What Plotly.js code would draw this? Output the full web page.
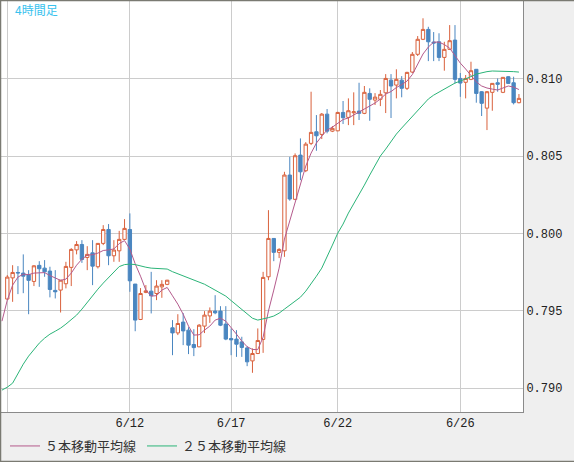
<!DOCTYPE html>
<html>
<head>
<meta charset="utf-8">
<script src="https://cdn.plot.ly/plotly-3.0.1.min.js"></script>
<style>
html,body{margin:0;padding:0;background:#efefef;}
#chart{width:574px;height:462px;}
</style>
</head>
<body>
<div id="chart"></div>
<script>
// 4-hour bars, index 0 = first bar (6/8)
const open = [0.79576,0.79713,0.79748,0.79744,0.79735,0.79690,0.79794,0.79776,0.79757,0.79632,
0.79634,0.79675,0.79781,0.79894,0.79929,0.79845,0.79875,0.79785,0.79936,0.80026,
0.79856,0.79888,0.79962,0.80026,0.79673,0.79444,0.79619,0.79627,0.79612,0.79655,
0.79671,0.79390,0.79357,0.79427,0.79375,0.79282,0.79267,0.79401,0.79467,0.79498,
0.79498,0.79414,0.79321,0.79317,0.79299,0.79260,0.79176,0.79224,0.79315,0.79720,
0.79968,0.79878,0.79888,0.80378,0.80221,0.80507,0.80406,0.80583,0.80658,0.80641,
0.80772,0.80662,0.80664,0.80783,0.80751,0.80781,0.80792,0.80777,0.80906,0.80863,
0.80868,0.80910,0.80992,0.80960,0.80992,0.80939,0.81044,0.81159,0.81256,0.81320,
0.81238,0.81240,0.81139,0.81191,0.81251,0.81003,0.80978,0.80997,0.81062,0.80917,
0.80811,0.80913,0.80975,0.80913,0.81014,0.80975,0.80846];
const high = [0.79731,0.79795,0.79789,0.79865,0.79763,0.79795,0.79821,0.79828,0.79785,0.79763,
0.79698,0.79817,0.79905,0.79951,0.79957,0.79918,0.79957,0.79938,0.80054,0.80061,
0.79957,0.80017,0.80093,0.80130,0.79673,0.79647,0.79666,0.79752,0.79698,0.79698,
0.79700,0.79440,0.79478,0.79485,0.79394,0.79381,0.79414,0.79498,0.79522,0.79601,
0.79530,0.79530,0.79386,0.79375,0.79332,0.79271,0.79257,0.79386,0.79752,0.80151,
0.79970,0.79905,0.80399,0.80496,0.80518,0.80615,0.80591,0.80917,0.80766,0.80779,
0.80805,0.80695,0.80787,0.80857,0.80874,0.80913,0.80975,0.80954,0.80939,0.80908,
0.80928,0.81031,0.81031,0.81062,0.81018,0.81046,0.81174,0.81277,0.81392,0.81337,
0.81303,0.81295,0.81240,0.81348,0.81348,0.81038,0.81025,0.81111,0.81064,0.80921,
0.80921,0.80973,0.81003,0.81012,0.81018,0.81014,0.80902];
const low = [0.79569,0.79558,0.79608,0.79614,0.79478,0.79660,0.79655,0.79720,0.79587,0.79580,
0.79489,0.79645,0.79660,0.79865,0.79810,0.79763,0.79666,0.79774,0.79925,0.79795,
0.79817,0.79817,0.79957,0.79623,0.79368,0.79440,0.79614,0.79483,0.79569,0.79584,
0.79666,0.79213,0.79343,0.79278,0.79220,0.79207,0.79265,0.79356,0.79422,0.79478,
0.79401,0.79310,0.79213,0.79202,0.79202,0.79142,0.79099,0.79220,0.79228,0.79698,
0.79821,0.79841,0.79849,0.80212,0.80216,0.80345,0.80397,0.80572,0.80535,0.80611,
0.80648,0.80656,0.80662,0.80708,0.80701,0.80701,0.80734,0.80772,0.80729,0.80831,
0.80824,0.80779,0.80747,0.80874,0.80881,0.80928,0.81038,0.81148,0.81251,0.81115,
0.81115,0.81115,0.81053,0.81187,0.80971,0.80884,0.80874,0.80992,0.80846,0.80760,
0.80669,0.80794,0.80917,0.80908,0.80967,0.80835,0.80842];
const close = [0.79718,0.79748,0.79745,0.79724,0.79697,0.79791,0.79772,0.79752,0.79638,0.79623,
0.79698,0.79787,0.79897,0.79929,0.79832,0.79865,0.79789,0.79936,0.80026,0.79856,
0.79893,0.79962,0.80033,0.79694,0.79440,0.79612,0.79629,0.79597,0.79660,0.79671,
0.79698,0.79357,0.79418,0.79370,0.79278,0.79262,0.79407,0.79472,0.79498,0.79487,
0.79407,0.79317,0.79312,0.79284,0.79263,0.79170,0.79224,0.79308,0.79716,0.79968,
0.79878,0.79897,0.80378,0.80223,0.80503,0.80399,0.80578,0.80654,0.80632,0.80772,
0.80662,0.80680,0.80783,0.80749,0.80794,0.80787,0.80777,0.80913,0.80868,0.80882,
0.80900,0.81003,0.80954,0.80997,0.80939,0.81042,0.81159,0.81256,0.81320,0.81240,
0.81232,0.81139,0.81191,0.81247,0.80997,0.80973,0.81003,0.81053,0.80906,0.80842,
0.80917,0.80971,0.80965,0.81010,0.80971,0.80846,0.80874];

// moving averages, first value belongs to bar index -1
const ma5 = [0.79433,0.79569,0.79666,0.79718,0.79737,0.79734,0.79744,0.79747,0.79747,0.79728,
0.79711,0.79697,0.79705,0.79744,0.79795,0.79834,0.79860,0.79863,0.79873,0.79890,
0.79894,0.79900,0.79935,0.79954,0.79899,0.79804,0.79724,0.79634,0.79595,0.79598,
0.79634,0.79651,0.79597,0.79543,0.79478,0.79401,0.79343,0.79345,0.79375,0.79401,
0.79440,0.79452,0.79433,0.79394,0.79349,0.79304,0.79268,0.79250,0.79249,0.79330,
0.79499,0.79634,0.79776,0.79964,0.80080,0.80197,0.80307,0.80436,0.80520,0.80585,
0.80630,0.80669,0.80688,0.80714,0.80737,0.80747,0.80766,0.80782,0.80801,0.80824,
0.80844,0.80870,0.80902,0.80918,0.80944,0.80963,0.80986,0.81028,0.81096,0.81161,
0.81206,0.81238,0.81238,0.81222,0.81199,0.81151,0.81102,0.81064,0.81025,0.80980,
0.80954,0.80941,0.80934,0.80928,0.80941,0.80954,0.80947,0.80931];
const ma25 = [0.78987,0.79006,0.79032,0.79097,0.79155,0.79207,0.79252,0.79291,0.79323,0.79349,
0.79368,0.79388,0.79414,0.79446,0.79472,0.79511,0.79556,0.79601,0.79640,0.79679,
0.79715,0.79750,0.79786,0.79799,0.79802,0.79799,0.79789,0.79782,0.79776,0.79774,
0.79774,0.79770,0.79753,0.79740,0.79724,0.79711,0.79698,0.79686,0.79672,0.79653,
0.79634,0.79614,0.79595,0.79566,0.79537,0.79508,0.79478,0.79452,0.79440,0.79446,
0.79456,0.79466,0.79485,0.79511,0.79537,0.79566,0.79588,0.79627,0.79672,0.79724,
0.79776,0.79847,0.79925,0.80002,0.80061,0.80132,0.80190,0.80255,0.80313,0.80378,
0.80443,0.80501,0.80546,0.80598,0.80643,0.80682,0.80721,0.80760,0.80798,0.80831,
0.80870,0.80895,0.80915,0.80934,0.80954,0.80973,0.80986,0.80999,0.81015,0.81031,
0.81041,0.81047,0.81051,0.81051,0.81051,0.81051,0.81047,0.81044];

const dayTickBars = [0, 23, 42, 62, 85];
const dayTickLabels = ['', '6/12', '6/17', '6/22', '6/26'];
const priceTicks = [0.790, 0.795, 0.800, 0.805, 0.810];
const seriesNames = ['５本移動平均線', '２５本移動平均線'];
const chartTitle = '4時間足';

const barX = open.map((_, i) => i);
const maX = ma5.map((_, i) => i - 1);

const W = 574, H = 462, ML = 1, MR = 51, MT = 1, MB = 50;
const PW = W - ML - MR, PH = H - MT - MB;
const px = v => (v - ML) / PW;
const py = v => (H - MB - v) / PH;

const traces = [
  {
    type: 'candlestick', x: barX, open: open, high: high, low: low, close: close,
    showlegend: false, hoverinfo: 'skip', whiskerwidth: 0,
    increasing: {line: {color: '#d9613c', width: 1}, fillcolor: '#ffffff'},
    decreasing: {line: {color: '#4a86c0', width: 1}, fillcolor: '#4a86c0'}
  },
  {type: 'scatter', mode: 'lines', x: maX, y: ma5, name: seriesNames[0], legend: 'legend',
   line: {color: '#b45a8c', width: 1}, hoverinfo: 'skip'},
  {type: 'scatter', mode: 'lines', x: maX, y: ma25, name: seriesNames[1], legend: 'legend2',
   line: {color: '#2bb478', width: 1}, hoverinfo: 'skip'}
];

const monoFont = {family: 'Liberation Mono, DejaVu Sans Mono, monospace', size: 12, color: '#222222'};
const legendFont = {family: 'Noto Sans CJK JP', size: 13, color: '#333333'};

const layout = {
  width: W, height: H,
  margin: {l: ML, r: MR, t: MT, b: MB, pad: 0},
  paper_bgcolor: '#efefef', plot_bgcolor: '#ffffff',
  boxgap: 0.22, boxgroupgap: 0.2,
  title: {text: chartTitle, xref: 'container', yref: 'container', x: 15 / W, xanchor: 'left',
          y: 1 - 10.5 / H, yanchor: 'middle',
          font: {family: 'Noto Sans CJK JP', size: 12, color: '#38c2ee'}},
  xaxis: {
    range: [-1.18, 96.76], tickvals: dayTickBars, ticktext: dayTickLabels,
    showgrid: true, gridcolor: '#cccccc', gridwidth: 1, zeroline: false,
    showline: true, linecolor: '#8a8a8a', linewidth: 1, mirror: true,
    ticks: '', tickfont: monoFont, rangeslider: {visible: false}, fixedrange: true
  },
  yaxis: {
    side: 'right', range: [0.788455, 0.815038], tickvals: priceTicks, tickformat: '.3f',
    showgrid: true, gridcolor: '#cccccc', gridwidth: 1, zeroline: false,
    showline: true, linecolor: '#8a8a8a', linewidth: 1, mirror: true,
    ticks: '', tickfont: monoFont, fixedrange: true
  },
  showlegend: true,
  legend: {
    orientation: 'h', xref: 'container', yref: 'container',
    x: 5 / W, xanchor: 'left', y: (H - 446) / H, yanchor: 'middle',
    bgcolor: 'rgba(0,0,0,0)', font: legendFont
  },
  legend2: {
    orientation: 'h', xref: 'container', yref: 'container',
    x: 142 / W, xanchor: 'left', y: (H - 446) / H, yanchor: 'middle',
    bgcolor: 'rgba(0,0,0,0)', font: legendFont
  },
  shapes: [
    {type: 'line', xref: 'paper', yref: 'paper', x0: px(0.5), x1: px(0.5), y0: py(0), y1: py(H),
     line: {color: '#7a7a72', width: 1.5}},
    {type: 'line', xref: 'paper', yref: 'paper', x0: px(0), x1: px(W), y0: py(0.5), y1: py(0.5),
     line: {color: '#7a7a72', width: 1.5}},
    {type: 'line', xref: 'paper', yref: 'paper', x0: px(0), x1: px(W), y0: py(H - 0.5), y1: py(H - 0.5),
     line: {color: '#7a7a72', width: 1.5}}
  ]
};

Plotly.newPlot('chart', traces, layout, {staticPlot: true, displayModeBar: false});
</script>
</body>
</html>
